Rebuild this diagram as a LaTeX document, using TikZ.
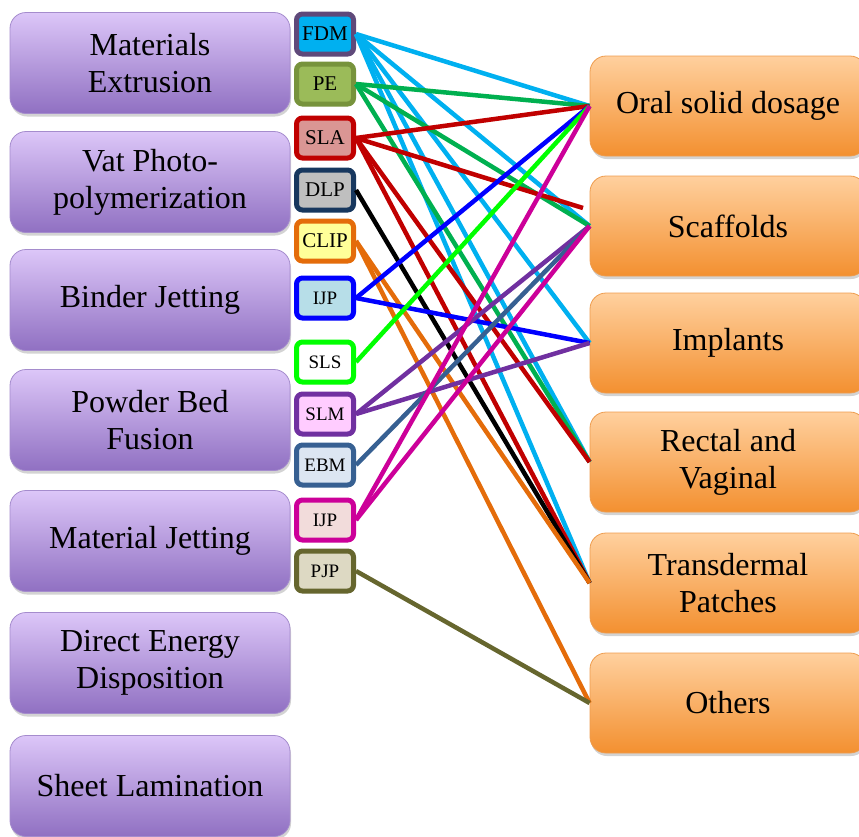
\documentclass[tikz,border=0pt]{standalone}
\usepackage{fontspec}
\setmainfont{Liberation Serif}
\usetikzlibrary{shadows}
\definecolor{grptop}{HTML}{DCC6F8}
\definecolor{grpmid}{HTML}{C1A2EC}
\definecolor{grpbot}{HTML}{9070C2}
\definecolor{grpline}{HTML}{A58CCD}
\definecolor{apptop}{HTML}{FFD09E}
\definecolor{appmid}{HTML}{FFAD5C}
\definecolor{appbot}{HTML}{F39030}
\definecolor{appline}{HTML}{EE9C4E}
\definecolor{fdmc}{HTML}{00B0F0}
\definecolor{fdmbox}{HTML}{5F497A}
\definecolor{pec}{HTML}{00B050}
\definecolor{pebox}{HTML}{77933C}
\definecolor{pefill}{HTML}{9BBB59}
\definecolor{slac}{HTML}{C00000}
\definecolor{slafill}{HTML}{DA9694}
\definecolor{dlpbox}{HTML}{17375E}
\definecolor{dlpfill}{HTML}{BFBFBF}
\definecolor{clipc}{HTML}{E46C0A}
\definecolor{clipfill}{HTML}{FFFF99}
\definecolor{ijpc}{HTML}{0000FF}
\definecolor{ijpfill}{HTML}{B7DEE8}
\definecolor{slsc}{HTML}{00FF00}
\definecolor{slmc}{HTML}{7030A0}
\definecolor{slmfill}{HTML}{FFCCFF}
\definecolor{ebmc}{HTML}{376092}
\definecolor{ebmfill}{HTML}{DCE6F2}
\definecolor{mjc}{HTML}{CC0099}
\definecolor{mjfill}{HTML}{F2DCDB}
\definecolor{pjpc}{HTML}{66662E}
\definecolor{pjpfill}{HTML}{DDD9C3}

\begin{document}
\begin{tikzpicture}
[x=1pt,y=-1pt,
grp/.style={rounded corners=16pt,minimum width=280pt,minimum height=101pt,align=center,
  draw=grpline,line width=0.8pt,top color=grptop,middle color=grpmid,bottom color=grpbot,
  drop shadow={opacity=0.35,shadow xshift=1pt,shadow yshift=-3pt},
  font=\fontsize{32}{37}\selectfont},
app/.style={rounded corners=16pt,minimum width=276pt,minimum height=100pt,align=center,
  draw=appline,line width=0.8pt,top color=apptop,middle color=appmid,bottom color=appbot,
  drop shadow={opacity=0.35,shadow xshift=1pt,shadow yshift=-3pt},
  font=\fontsize{32}{37}\selectfont},
tb/.style={rounded corners=6pt,minimum width=57pt,minimum height=40pt,inner sep=0pt,
  line width=5pt,drop shadow={opacity=0.3,shadow xshift=1pt,shadow yshift=-2pt},
  font=\fontsize{21}{21}\selectfont},
tbs/.style={tb,font=\fontsize{19}{19}\selectfont},
ln/.style={line width=4.5pt}]
\useasboundingbox (0,0) rectangle (859,836);
\clip (0,0) rectangle (859,836);
% process groups
\node[grp] (me) at (150,63) {Materials\\Extrusion};
\node[grp] (vat) at (150,182) {Vat Photo-\\polymerization};
\node[grp] (bj) at (150,300) {Binder Jetting};
\node[grp] (pbf) at (150,420) {Powder Bed\\Fusion};
\node[grp] (mj) at (150,541) {Material Jetting};
\node[grp] (ded) at (150,663) {Direct Energy\\Disposition};
\node[grp] (sl) at (150,786) {Sheet Lamination};
% applications
\node[app] (oral) at (728,106) {Oral solid dosage};
\node[app] (scaf) at (728,226) {Scaffolds};
\node[app] (impl) at (728,343) {Implants};
\node[app] (rect) at (728,462) {Rectal and\\Vaginal};
\node[app] (trans) at (728,583) {Transdermal\\Patches};
\node[app] (oth) at (728,703) {Others};
\coordinate (scaf') at (583,208);
% techniques
\node[tb,draw=fdmbox,fill=fdmc] (fdm) at (325,34) {FDM};
\node[tb,draw=pebox,fill=pefill] (pe) at (325,84) {PE};
\node[tb,draw=slac,fill=slafill] (sla) at (325,138) {SLA};
\node[tb,draw=dlpbox,fill=dlpfill] (dlp) at (325,190) {DLP};
\node[tb,draw=clipc,fill=clipfill] (clip) at (325,241) {CLIP};
\node[tbs,draw=ijpc,fill=ijpfill] (ijp) at (325,298) {IJP};
\node[tbs,draw=slsc,fill=white] (sls) at (325,362) {SLS};
\node[tbs,draw=slmc,fill=slmfill] (slm) at (325,414) {SLM};
\node[tbs,draw=ebmc,fill=ebmfill] (ebm) at (325,465) {EBM};
\node[tbs,draw=mjc,fill=mjfill] (ijp') at (325,520) {IJP};
\node[tbs,draw=pjpc,fill=pjpfill] (pjp) at (325,571) {PJP};
% links
\draw[ln,fdmc] (fdm.east) -- (oral.west);
\draw[ln,fdmc] (fdm.east) -- (scaf.west);
\draw[ln,fdmc] (fdm.east) -- (impl.west);
\draw[ln,fdmc] (fdm.east) -- (rect.west);
\draw[ln,fdmc] (fdm.east) -- (trans.west);
\draw[ln,pec] (pe.east) -- (oral.west);
\draw[ln,pec] (pe.east) -- (scaf.west);
\draw[ln,pec] (pe.east) -- (rect.west);
\draw[ln,slac] (sla.east) -- (oral.west);
\draw[ln,slac] (sla.east) -- (scaf');
\draw[ln,slac] (sla.east) -- (rect.west);
\draw[ln,slac] (sla.east) -- (trans.west);
\draw[ln,black] (dlp.east) -- (trans.west);
\draw[ln,clipc] (clip.east) -- (trans.west);
\draw[ln,clipc] (clip.east) -- (oth.west);
\draw[ln,ijpc] (ijp.east) -- (oral.west);
\draw[ln,ijpc] (ijp.east) -- (impl.west);
\draw[ln,slsc] (sls.east) -- (oral.west);
\draw[ln,slmc] (slm.east) -- (scaf.west);
\draw[ln,slmc] (slm.east) -- (impl.west);
\draw[ln,ebmc] (ebm.east) -- (scaf.west);
\draw[ln,mjc] (ijp'.east) -- (oral.west);
\draw[ln,mjc] (ijp'.east) -- (scaf.west);
\draw[ln,pjpc] (pjp.east) -- (oth.west);
\end{tikzpicture}
\end{document}
